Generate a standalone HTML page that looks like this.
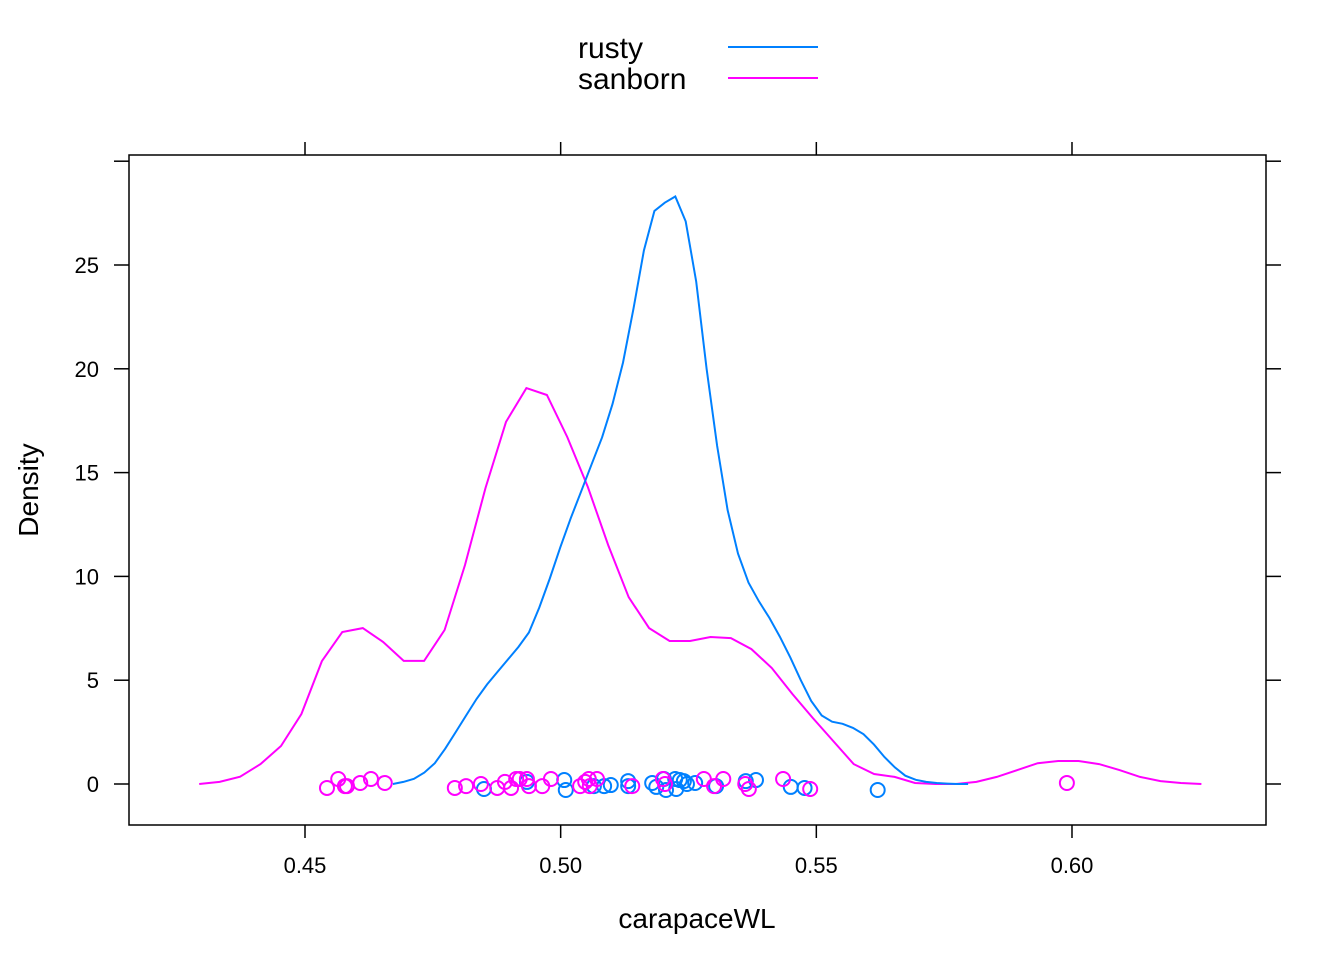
<!DOCTYPE html>
<html><head><meta charset="utf-8"><style>
html,body{margin:0;padding:0;background:#fff}
svg{display:block;font-family:"Liberation Sans",Arial,sans-serif}
</style></head><body>
<svg id="chart" width="1344" height="960" viewBox="0 0 1344 960" xmlns="http://www.w3.org/2000/svg">
<g id="axes"></g>
<g id="series"></g>
<g id="legend">
  <text x="578" y="58" font-size="30">rusty</text>
  <line x1="728" y1="47" x2="818" y2="47" stroke="#0080ff" stroke-width="2"/>
  <text x="578" y="89" font-size="30">sanborn</text>
  <line x1="728" y1="78" x2="818" y2="78" stroke="#ff00ff" stroke-width="2"/>
</g>
<text x="697" y="928" font-size="28" text-anchor="middle">carapaceWL</text>
<text transform="translate(38,490) rotate(-90)" font-size="28" text-anchor="middle">Density</text>
</svg>
<script>
const xTicks = [0.45, 0.50, 0.55, 0.60];
const xTickLabels = ["0.45", "0.50", "0.55", "0.60"];
const yTicks = [0, 5, 10, 15, 20, 25, 30];
const yTickLabels = ["0", "5", "10", "15", "20", "25", ""];

const sanbornStart = 0.4293;
const sanbornStep = 0.004;
const sanbornDensity = [0,0.1,0.35,0.96,1.83,3.37,5.92,7.32,7.51,6.84,5.93,5.93,7.42,10.55,14.26,17.44,19.07,18.74,16.71,14.31,11.51,9.0,7.51,6.89,6.89,7.08,7.03,6.5,5.59,4.34,3.18,2.07,0.96,0.48,0.34,0.05,0,0,0.1,0.34,0.67,1.0,1.11,1.11,0.96,0.67,0.34,0.14,0.05,0];

const rustyStart = 0.4672;
const rustyStep = 0.002045;
const rustyDensity = [0,0.1,0.25,0.55,1.0,1.7,2.5,3.3,4.1,4.8,5.4,6.0,6.6,7.3,8.5,9.9,11.4,12.8,14.1,15.4,16.7,18.3,20.3,22.9,25.7,27.6,28.0,28.3,27.1,24.2,20.0,16.3,13.2,11.1,9.7,8.8,8.0,7.1,6.1,5.0,4.0,3.3,3.0,2.9,2.7,2.4,1.9,1.3,0.8,0.4,0.2,0.1,0.05,0.02,0,0];

const sanbornRugX = [0.4543,0.4565,0.4578,0.4582,0.4608,0.4629,0.4656,0.4793,0.4815,0.4844,0.4876,0.4891,0.4903,0.4913,0.4920,0.4934,0.4938,0.4964,0.4981,0.5038,0.5048,0.5055,0.5057,0.5071,0.5140,0.5200,0.5204,0.5280,0.5300,0.5318,0.5361,0.5368,0.5435,0.5488,0.5990];
const sanbornRugY = [-0.19,0.24,-0.1,-0.1,0.05,0.24,0.05,-0.19,-0.1,0,-0.19,0.1,-0.19,0.24,0.24,0.24,-0.1,-0.1,0.24,-0.1,0.1,0.24,-0.1,0.24,-0.1,0.24,0,0.24,-0.1,0.24,0,-0.24,0.24,-0.24,0.05];
const rustyRugX = [0.4850,0.4934,0.5007,0.5010,0.5065,0.5085,0.5098,0.5132,0.5132,0.5179,0.5187,0.5202,0.5206,0.5224,0.5226,0.5233,0.5241,0.5247,0.5263,0.5304,0.5362,0.5382,0.5450,0.5477,0.5620];
const rustyRugY = [-0.24,0.1,0.19,-0.29,-0.1,-0.1,-0.05,0.14,-0.1,0.05,-0.14,0.24,-0.29,0.24,-0.24,0.19,0.14,0,0.05,-0.1,0.14,0.19,-0.14,-0.19,-0.29];

const L=129,R=1266,T=155,B=825;
function sx(v){return 305+(v-0.45)*5113.3;}
function sy(v){return 784-v*20.76;}
const NS="http://www.w3.org/2000/svg";
function mk(tag,attrs,parent){const e=document.createElementNS(NS,tag);for(const k in attrs)e.setAttribute(k,attrs[k]);parent.appendChild(e);return e;}
const axes=document.getElementById('axes');
const series=document.getElementById('series');

const box=mk('rect',{x:L,y:T,width:R-L,height:B-T,fill:'none',stroke:'#000','stroke-width':1.5},axes);



xTicks.forEach((v,i)=>{
  const x=sx(v);
  const t1=mk('line',{x1:x,y1:B,x2:x,y2:B+13,stroke:'#000','stroke-width':1.5},axes);
  
  
  const t2=mk('line',{x1:x,y1:T,x2:x,y2:T-13,stroke:'#000','stroke-width':1.5},axes);
  
  
  const lb=mk('text',{x:x,y:873,'font-size':22,'text-anchor':'middle'},axes);
  lb.textContent=xTickLabels[i];
  
  
});
yTicks.forEach((v,i)=>{
  const y=sy(v);
  const t1=mk('line',{x1:L-15,y1:y,x2:L,y2:y,stroke:'#000','stroke-width':1.5},axes);
  
  
  const t2=mk('line',{x1:R,y1:y,x2:R+15,y2:y,stroke:'#000','stroke-width':1.5},axes);
  
  
  const lb=mk('text',{x:99,y:y+8,'font-size':22,'text-anchor':'end'},axes);
  lb.textContent=yTickLabels[i];
  
  
});

function curve(start,step,vals,color,name){
  const pts=vals.map((d,i)=>sx(start+i*step).toFixed(1)+','+sy(d).toFixed(1)).join(' ');
  const p=mk('polyline',{points:pts,fill:'none',stroke:color,'stroke-width':2},series);
  
  
}
curve(sanbornStart,sanbornStep,sanbornDensity,'#ff00ff','sanborn-density-line');
curve(rustyStart,rustyStep,rustyDensity,'#0080ff','rusty-density-line');

function rug(xs,ys,color,name){
  xs.forEach((v,i)=>{
    const c=mk('circle',{cx:sx(v),cy:sy(ys[i]),r:7,fill:'none',stroke:color,'stroke-width':2},series);
    
    
  });
}
rug(rustyRugX,rustyRugY,'#0080ff','rusty-point');
rug(sanbornRugX,sanbornRugY,'#ff00ff','sanborn-point');
</script>
</body></html>
